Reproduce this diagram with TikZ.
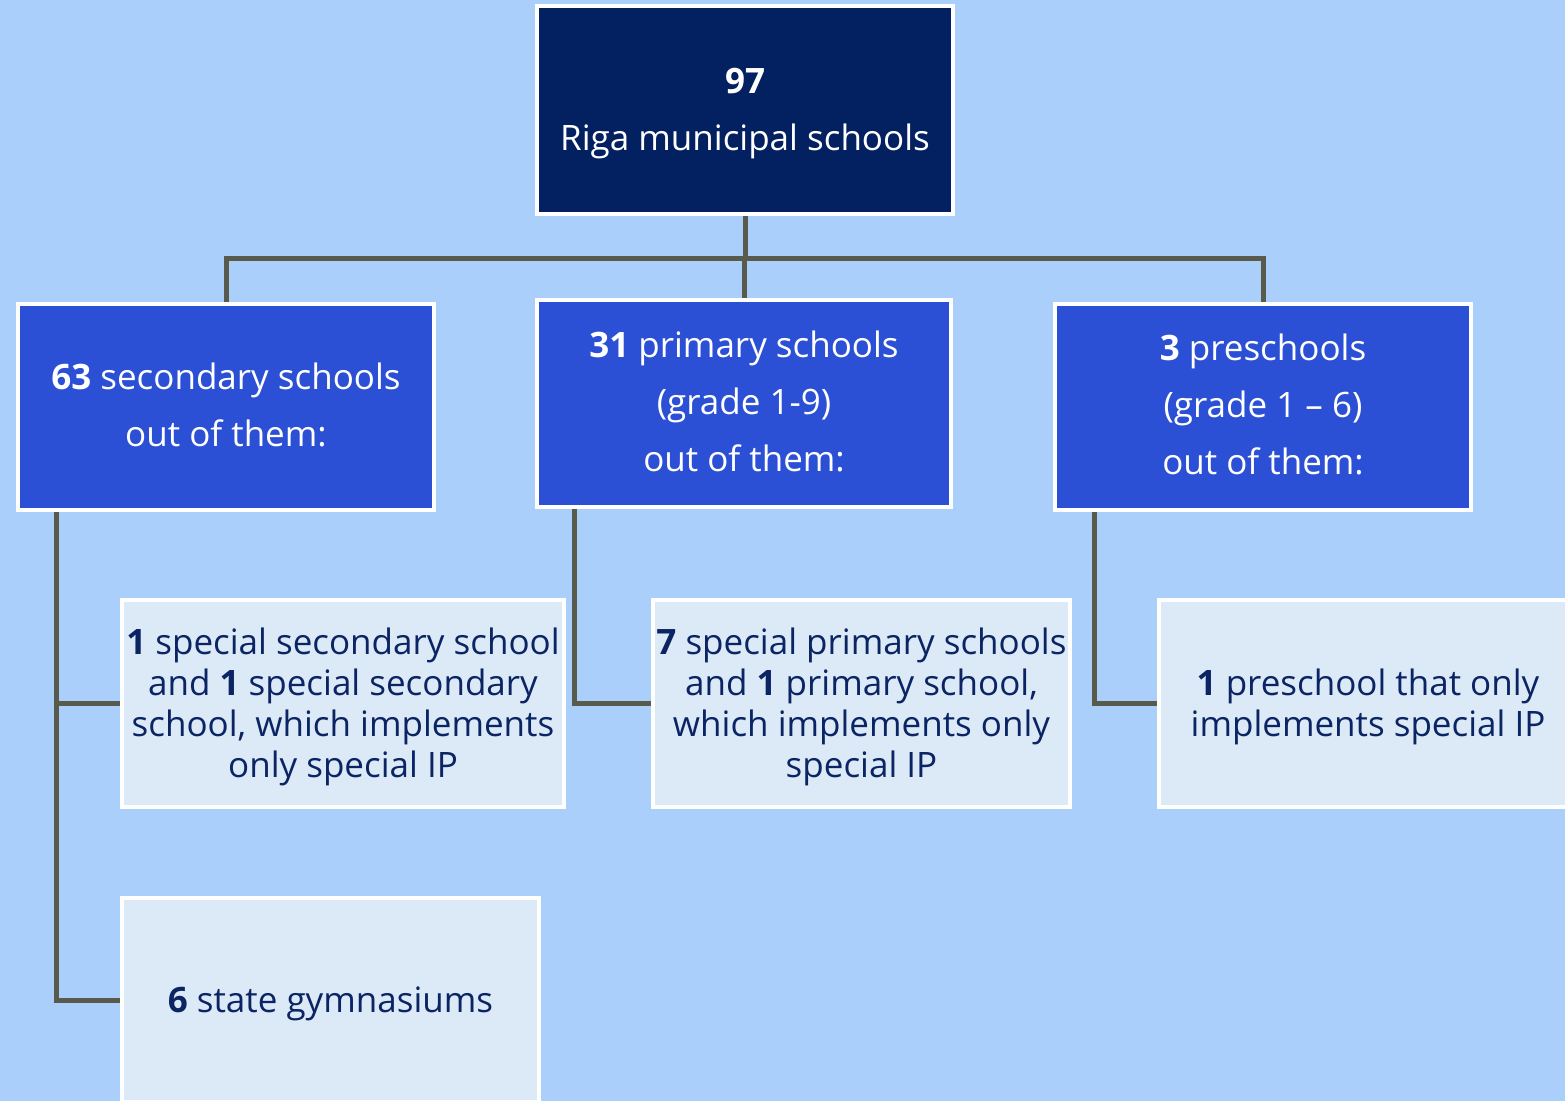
\documentclass[tikz,border=0pt]{standalone}
\usepackage{fontspec}
\setmainfont{Open Sans}
\usetikzlibrary{calc}
\definecolor{bgc}{RGB}{170,207,251}
\definecolor{topc}{RGB}{3,33,96}
\definecolor{bluec}{RGB}{43,80,213}
\definecolor{lightc}{RGB}{220,233,246}
\definecolor{navyt}{RGB}{10,36,100}
\definecolor{linec}{RGB}{88,91,76}
\newcommand{\topstrut}[1]{\rule{0pt}{#1pt}}
\newcommand{\botstrut}[1]{\rule[-#1pt]{0pt}{0pt}}
\pgfdeclarelayer{back}
\pgfdeclarelayer{bg}
\pgfsetlayers{back,bg,main}
\tikzset{
  box/.style={draw=white, line width=4pt, inner sep=0pt, align=center, anchor=center},
  topbox/.style={box, fill=topc, text=white, font=\fontsize{35}{57}\selectfont},
  midbox/.style={box, fill=bluec, text=white, font=\fontsize{35}{57}\selectfont},
  leafbox/.style={box, fill=lightc, text=navyt, font=\fontsize{35}{41}\selectfont},
  conn/.style={draw=linec, line width=5pt},
}
\begin{document}
\begin{tikzpicture}[x=1pt,y=-1pt]
\begin{pgfonlayer}{back}
\fill[bgc] (0,0) rectangle (1565,1101);
\end{pgfonlayer}
\useasboundingbox (0,0) rectangle (1565,1101);
\clip (0,0) rectangle (1565,1101);
\node[topbox, minimum width=416pt, minimum height=208pt] (top) at (745,110) {\topstrut{31.5}\textbf{97}\\Riga municipal schools};
\node[midbox, minimum width=416pt, minimum height=206pt] (A) at (226,407) {\textbf{63} secondary schools\\out of them:\botstrut{4}};
\node[midbox, minimum width=414pt, minimum height=207pt] (B) at (744,403.5) {\textbf{31} primary schools\\(grade 1-9)\\out of them:\botstrut{4}};
\node[midbox, minimum width=416pt, minimum height=206pt] (C) at (1263,407) {\textbf{3} preschools\\(grade 1 -- 6)\\out of them:\botstrut{6}};
\node[leafbox, minimum width=442pt, minimum height=207pt] (D) at (343,703.5) {\topstrut{32.6}\textbf{1} special secondary school\\and \textbf{1} special secondary\\school, which implements\\only special IP};
\node[leafbox, minimum width=417pt, minimum height=207pt] (E) at (861.5,703.5) {\topstrut{32.6}\textbf{7} special primary schools\\and \textbf{1} primary school,\\which implements only\\special IP};
\node[leafbox, minimum width=418pt, minimum height=207pt] (F) at (1368,703.5) {\topstrut{32.6}\textbf{1} preschool that only\\implements special IP};
\node[leafbox, minimum width=417pt, minimum height=204pt] (G) at (330.5,1000) {\topstrut{33}\textbf{6} state gymnasiums};
\coordinate (bus) at (744,258);
\coordinate (a1) at ($(A.south west)+(40,0)$);
\coordinate (b1) at ($(B.south west)+(39,0)$);
\coordinate (c1) at ($(C.south west)+(41,0)$);
\begin{pgfonlayer}{bg}
\draw[conn] (top.south) -- (top.south |- bus);
\draw[conn] (A.north) -- (A.north |- bus) -- (C.north |- bus) -- (C.north);
\draw[conn] (B.north) -- (B.north |- bus);
\draw[conn] (a1) |- (G.west);
\draw[conn] (D.west) -- (D.west -| a1);
\draw[conn] (b1) |- (E.west);
\draw[conn] (c1) |- (F.west);
\end{pgfonlayer}
\end{tikzpicture}
\end{document}
